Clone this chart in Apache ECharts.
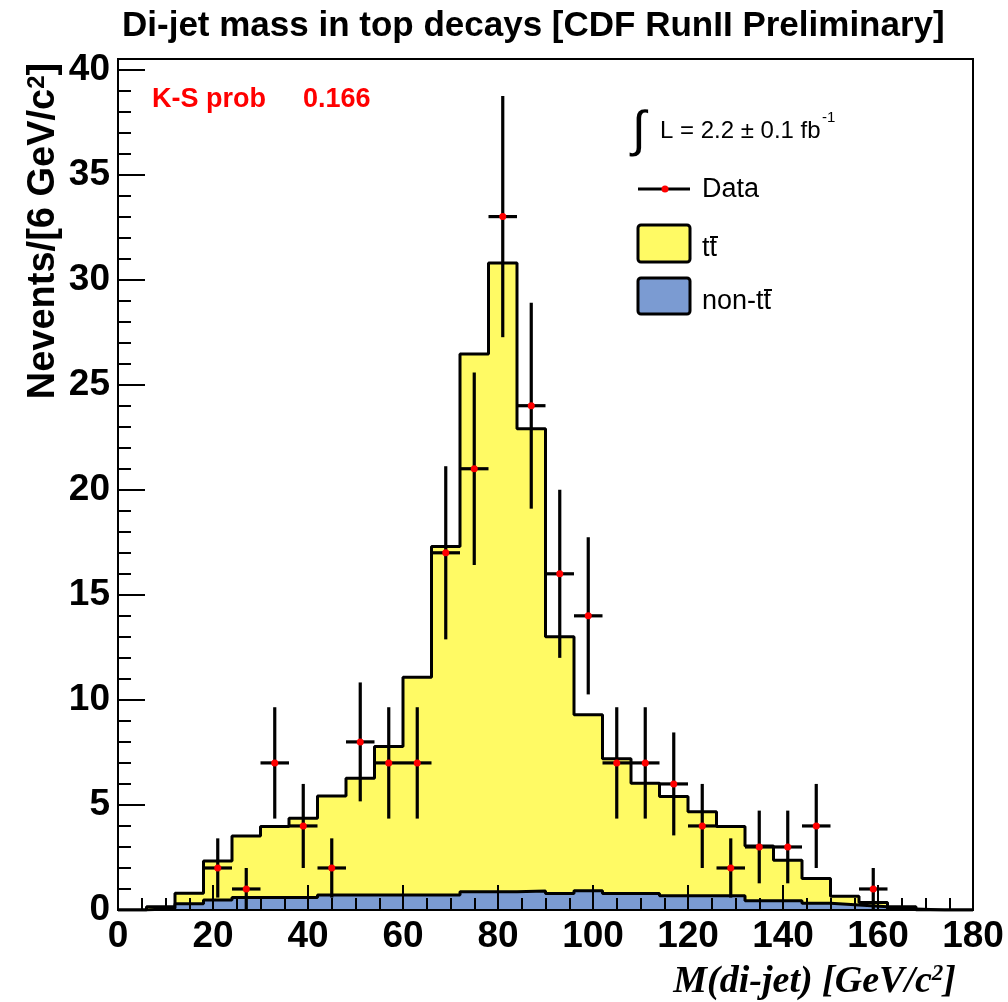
<!DOCTYPE html>
<html><head><meta charset="utf-8">
<script src="https://cdn.jsdelivr.net/npm/echarts@6/dist/echarts.min.js"></script>
<style>html,body{margin:0;padding:0;background:#fff}#c{width:1008px;height:1002px}</style>
</head><body><div id="c"></div>
<script>
// ---- data ----
const binWidth = 6;
const binLowEdges = [0,6,12,18,24,30,36,42,48,54,60,66,72,78,84,90,96,102,108,114,120,126,132,138,144,150,156,162,168,174];
// stacked total (tt + non-tt), top of the yellow histogram
const totalMC = [0,0.15,0.8,2.33,3.52,3.97,4.37,5.43,6.27,7.78,11.08,17.3,26.46,30.79,22.9,13.0,9.29,7.2,6.03,5.4,4.68,3.97,3.05,2.37,1.5,0.66,0.36,0.16,0,0];
// non-ttbar background, top of the blue histogram
const nonTop = [0,0.08,0.3,0.48,0.59,0.59,0.59,0.71,0.71,0.71,0.71,0.71,0.87,0.87,0.9,0.79,0.92,0.79,0.79,0.68,0.68,0.68,0.44,0.44,0.32,0.24,0.16,0.05,0,0];
// observed data per bin and its error bar
const dataCounts = [0,0,0,2,1,7,4,2,8,7,7,17,21,33,24,16,14,7,7,6,4,2,3,3,4,0,1,0,0,0];
const dataErrors = [0,0,0,1.41,1,2.65,2,1.41,2.83,2.65,2.65,4.12,4.58,5.74,4.9,4,3.74,2.65,2.65,2.45,2,1.41,1.73,1.73,2,0,1,0,0,0];
const xTicks = {min:0, max:180, interval:20};
const yTicks = {min:0, max:40.5, interval:5};

// ---- build series data ----
function stepData(vals){
  const d = binLowEdges.map((x,i)=>[x, vals[i]]);
  d.push([binLowEdges[binLowEdges.length-1]+binWidth, vals[vals.length-1]]);
  return d;
}
const dataPts = [];
dataCounts.forEach((v,i)=>{ if(v>0) dataPts.push([binLowEdges[i]+binWidth/2, v, dataErrors[i], binWidth/2]); });

const chart = echarts.init(document.getElementById('c'), null, {renderer:'canvas'});
const FONT = '"Liberation Sans", Arial, sans-serif';
const SERIF = '"Liberation Serif", "Times New Roman", serif';
const YEL = '#fffa64', BLU = '#7b9bd2';

const option = {
  animation:false,
  backgroundColor:'#fff',
  title:{text:'Di-jet mass in top decays [CDF RunII Preliminary]', left:117, top:4,
    textStyle:{fontSize:35, fontWeight:'bold', color:'#000', fontFamily:FONT}},
  grid:{left:118, right:35, top:59, bottom:92, show:true, borderColor:'#000', borderWidth:2, backgroundColor:'transparent', outerBoundsMode:'none'},
  xAxis:{type:'value', min:xTicks.min, max:xTicks.max, interval:xTicks.interval, z:5,
    axisLine:{lineStyle:{color:'#000', width:2}},
    axisTick:{inside:true, length:25, lineStyle:{color:'#000', width:2}},
    minorTick:{show:true, splitNumber:4, length:12, lineStyle:{color:'#000', width:2}},
    splitLine:{show:false}, minorSplitLine:{show:false},
    axisLabel:{fontSize:37, fontWeight:'bold', color:'#000', fontFamily:FONT, margin:8}},
  yAxis:[
    {type:'value', min:yTicks.min, max:yTicks.max, interval:yTicks.interval, z:5, position:'left',
     axisLine:{show:true, lineStyle:{color:'#000', width:2}},
     axisTick:{show:true, inside:true, length:27, lineStyle:{color:'#000', width:2}},
     splitLine:{show:false},
     axisLabel:{fontSize:37, fontWeight:'bold', color:'#000', fontFamily:FONT, margin:8, showMaxLabel:false,
       formatter:v=> (v%5===0 ? String(v) : '')}},
    {type:'value', min:yTicks.min, max:yTicks.max, interval:1, z:5, position:'left', offset:0,
     axisLine:{show:false}, axisTick:{show:true, inside:true, length:13, lineStyle:{color:'#000', width:2}},
     splitLine:{show:false}, axisLabel:{show:false}}
  ],
  series:[
    {name:'tt', type:'line', step:'end', data:stepData(totalMC), symbol:'none',
     lineStyle:{color:'#000', width:3}, areaStyle:{color:YEL, opacity:1, origin:'start'}, z:2},
    {name:'non-tt', type:'line', step:'end', data:stepData(nonTop), symbol:'none',
     lineStyle:{color:'#000', width:3}, areaStyle:{color:BLU, opacity:1, origin:'start'}, z:3},
    {name:'Data', type:'custom', data:dataPts, z:4, clip:true,
     renderItem:function(params, api){
       const x=api.value(0), y=api.value(1), e=api.value(2), hw=api.value(3);
       const c=api.coord([x,y]);
       const t=api.coord([x,y+e]), b=api.coord([x,Math.max(0,y-e)]);
       const l=api.coord([x-hw,y]), r=api.coord([x+hw,y]);
       return {type:'group', children:[
         {type:'line', shape:{x1:c[0],y1:t[1],x2:c[0],y2:b[1]}, style:{stroke:'#000', lineWidth:3.2}},
         {type:'line', shape:{x1:l[0],y1:c[1],x2:r[0],y2:c[1]}, style:{stroke:'#000', lineWidth:3.2}},
         {type:'circle', shape:{cx:c[0],cy:c[1],r:3.5}, style:{fill:'#ff0000'}}
       ]};
     }}
  ],
  graphic:{elements:[
    {type:'text', z:100, x:44, y:231, rotation:Math.PI/2, style:{
      text:'{n|Nevents/[6 GeV/c}{s|2}{n|]}', align:'center', verticalAlign:'middle',
      rich:{n:{fontSize:38, fontWeight:'bold', fontFamily:FONT, fill:'#000', color:'#000'},
            s:{fontSize:24, fontWeight:'bold', fontFamily:FONT, fill:'#000', color:'#000', verticalAlign:'top'}}}},
    {type:'text', z:100, x:956, y:982, style:{
      text:'{n|M(di-jet) [GeV/c}{s|2}{n|]}', align:'right', verticalAlign:'middle',
      rich:{n:{fontSize:38, fontWeight:'bold', fontStyle:'italic', fontFamily:SERIF, color:'#000'},
            s:{fontSize:23, fontWeight:'bold', fontStyle:'italic', fontFamily:SERIF, color:'#000', verticalAlign:'top'}}}},
    {type:'text', z:100, x:152, y:100, style:{text:'K-S prob', fill:'#ff0000', font:'bold 27px '+FONT, verticalAlign:'middle'}},
    {type:'text', z:100, x:303, y:100, style:{text:'0.166', fill:'#ff0000', font:'bold 27px '+FONT, verticalAlign:'middle'}},
    {type:'text', z:100, x:632, y:132, style:{text:'\u222B', fill:'#000', font:'50px '+FONT, verticalAlign:'middle'}},
    {type:'text', z:100, x:660, y:131, style:{text:'L = 2.2 \u00B1 0.1 fb', fill:'#000', font:'24px '+FONT, verticalAlign:'middle'}},
    {type:'text', z:100, x:822, y:118, style:{text:'-1', fill:'#000', font:'15px '+FONT, verticalAlign:'middle'}},
    {type:'line', z:100, shape:{x1:638,y1:189,x2:690,y2:189}, style:{stroke:'#000', lineWidth:3}},
    {type:'circle', z:101, shape:{cx:665,cy:189,r:3.5}, style:{fill:'#ff0000'}},
    {type:'text', z:100, x:702, y:190, style:{text:'Data', fill:'#000', font:'27px '+FONT, verticalAlign:'middle'}},
    {type:'rect', z:100, shape:{x:638,y:225,width:52,height:37,r:3}, style:{fill:YEL, stroke:'#000', lineWidth:3}},
    {type:'text', z:100, x:702, y:249, style:{text:'tt', fill:'#000', font:'27px '+FONT, verticalAlign:'middle'}},
    {type:'line', z:100, shape:{x1:710,y1:237,x2:718,y2:237}, style:{stroke:'#000', lineWidth:2}},
    {type:'rect', z:100, shape:{x:638,y:278,width:52,height:36,r:3}, style:{fill:BLU, stroke:'#000', lineWidth:3}},
    {type:'text', z:100, x:702, y:302, style:{text:'non-tt', fill:'#000', font:'27px '+FONT, verticalAlign:'middle'}},
    {type:'line', z:100, shape:{x1:764,y1:290,x2:772,y2:290}, style:{stroke:'#000', lineWidth:2}}
  ]}
};
chart.setOption(option);
</script></body></html>
